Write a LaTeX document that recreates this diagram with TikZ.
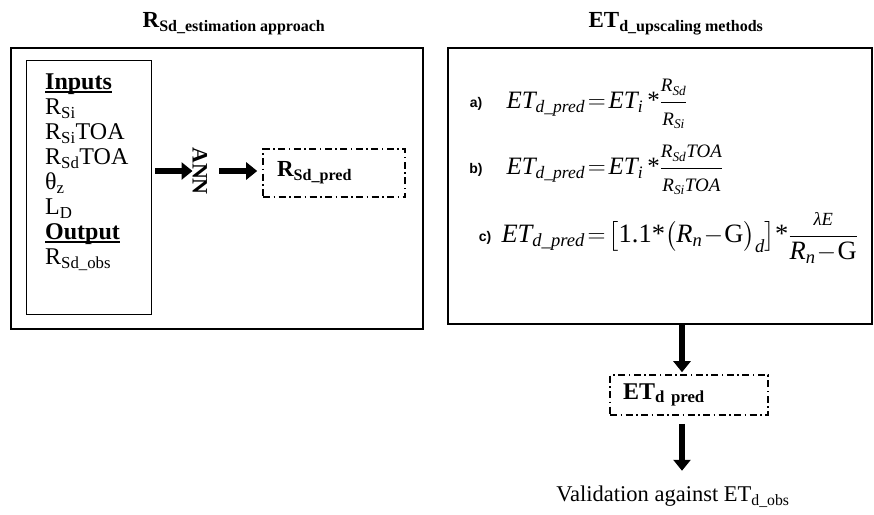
\documentclass[tikz,border=0pt]{standalone}
\usepackage{amsmath}
\usepackage{fontspec}
\setmainfont{Liberation Serif}
\newfontfamily\labfont{Liberation Sans}
\usepackage{tikz}
\usetikzlibrary{arrows.meta, calc}
\newcommand{\mv}[1]{\text{\itshape #1}}
\newcommand{\fs}[1]{\fontsize{#1}{#1}\selectfont}
\newcommand{\fr}[2]{\dfrac{\text{\fs{19}\itshape #1}}{\text{\fs{19}\itshape #2}}}
\newcommand{\ulin}[1]{\setbox0\hbox{#1}\rlap{\rule[-2.8pt]{\wd0}{1.4pt}}\box0}
\tikzset{
  panel/.style={draw, line width=2.2pt, minimum width=#1},
  dashbox/.style={draw, line width=1.6pt, dash pattern=on 7pt off 3.5pt on 1.5pt off 3.5pt, align=left},
  fatarrow/.style={line width=6pt, -{Triangle[length=11pt, width=17pt]}},
  eqlab/.style={font=\labfont\bfseries\fs{14}, anchor=center}
}

\begin{document}
\begin{tikzpicture}[x=1pt, y=-1pt]
\useasboundingbox[fill=white] (0,0) rectangle (874,514);
% ===== left panel: R_Sd estimation approach =====
\node[font=\bfseries] (lhead) at (234,24) {\fs{23}R\textsubscript{\fs{16}Sd\_estimation approach}};
\node[panel=412pt, minimum height=281pt] (lbox) at (217,188.5) {};
\node[draw, line width=0.8pt, minimum width=125pt, minimum height=254pt] (inbox) at (88.5,187) {};
\node[anchor=north west, align=left, inner sep=0pt, font=\fontsize{24}{25}\selectfont] (inputs) at (45,74)
  {\ulin{\bfseries Inputs}\\ R\textsubscript{Si}\\ R\textsubscript{Si}TOA\\
   R\textsubscript{Sd}TOA\\ θ\textsubscript{z}\\ L\textsubscript{D}\\
   \ulin{\bfseries Output}\\ R\textsubscript{Sd\_obs}};
\node[font=\bfseries\fs{22}, rotate=-90, inner sep=0pt] (ann) at (200,171) {ANN};
\node[dashbox, minimum width=142pt, minimum height=48pt, text width=114pt, inner xsep=14pt] (rpred) at (334,173)
  {\bfseries\fs{23}R\textsubscript{Sd\_pred}};
\draw[fatarrow] ($(inbox.east |- ann.center)+(4,0)$) -- (ann.south);
\draw[fatarrow, shorten >=5pt] ($(ann.north)+(12,0)$) -- (rpred.west |- ann.center);
% ===== right panel: ET_d upscaling methods =====
\node[font=\bfseries] (rhead) at (676,24) {\fs{23}ET\textsubscript{\fs{16}d\_upscaling methods}};
\node[panel=424pt, minimum height=276pt] (rbox) at (660,186) {};
\node[eqlab] (la) at (476,104) {a)};
\node[anchor=west, font=\fs{25}] (eqa) at (503,104)
  {$\thickmuskip=2mu \mv{ET}_{\mv{d\_pred}} = \mv{ET}_{\mv{i}}\,\text{*}\fr{R\textsubscript{Sd}}{R\textsubscript{Si}}$};
\node[eqlab] (lb) at (476,170) {b)};
\node[anchor=west, font=\fs{25}] (eqb) at (503,170)
  {$\thickmuskip=2mu \mv{ET}_{\mv{d\_pred}} = \mv{ET}_{\mv{i}}\,\text{*}\fr{R\textsubscript{Sd}TOA}{R\textsubscript{Si}TOA}$};
\node[eqlab] (lc) at (485,238) {c)};
\node[anchor=west, font=\fs{26.5}] (eqc) at (498,238)
  {$\thickmuskip=2mu \medmuskip=1mu \mv{ET}_{\mv{d\_pred}} = \big[\text{1.1*}\big(\mv{R}_{\mv{n}} - \text{G}\big)_{\mv{d}}\big]\text{*}
   \dfrac{\scriptstyle\mv{λE}}{\mv{R}_{\mv{n}} - \text{G}}$};
% ===== result and validation =====
\coordinate (drop) at (682,324);
\node[dashbox, minimum width=158pt, minimum height=40pt, text width=132pt, inner xsep=13pt] (etpred) at (689,395)
  {\bfseries\fs{24}ET\textsubscript{d\ \ pred}};
\node[font=\fs{22.5}] (valid) at (673,497) {Validation against ET\textsubscript{d\_obs}};
\draw[fatarrow, shorten >=2pt] (drop) -- (drop |- etpred.north);
\draw[fatarrow] ($(drop |- etpred.south)+(0,8)$) -- ($(drop |- valid.north)+(0,-12)$);
\end{tikzpicture}
\end{document}
